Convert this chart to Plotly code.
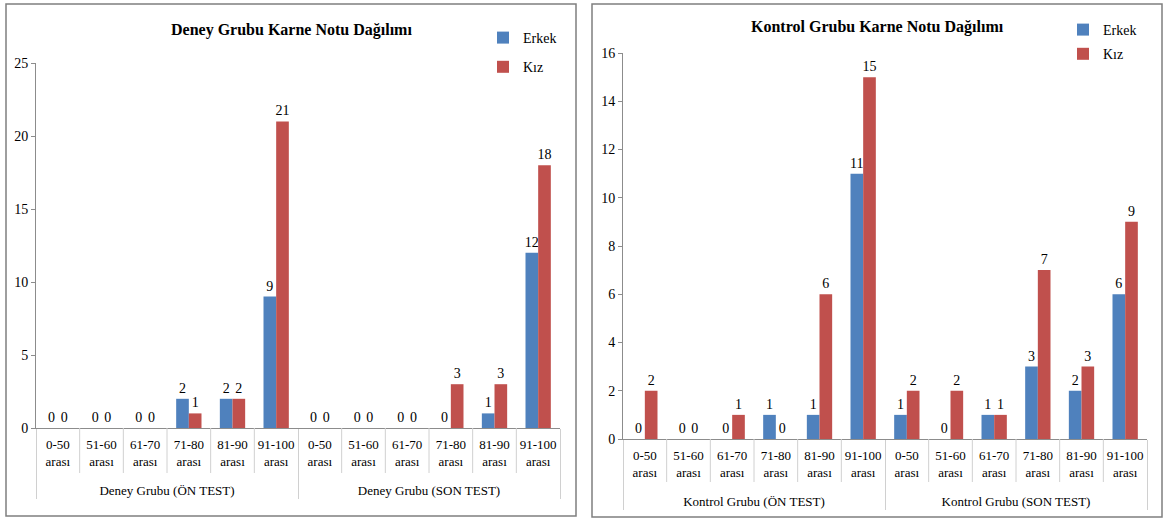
import plotly.graph_objects as go

# ---------------- data ----------------
score_bins = ["0-50<br>arası", "51-60<br>arası", "61-70<br>arası",
              "71-80<br>arası", "81-90<br>arası", "91-100<br>arası"]

deney_groups = ["Deney Grubu (ÖN TEST)", "Deney Grubu (SON TEST)"]
deney_erkek = [0, 0, 0, 2, 2, 9, 0, 0, 0, 0, 1, 12]
deney_kiz = [0, 0, 0, 1, 2, 21, 0, 0, 0, 3, 3, 18]

kontrol_groups = ["Kontrol Grubu (ÖN TEST)", "Kontrol Grubu (SON TEST)"]
kontrol_erkek = [0, 0, 0, 1, 1, 11, 1, 0, 1, 3, 2, 6]
kontrol_kiz = [2, 0, 1, 0, 6, 15, 2, 2, 1, 7, 3, 9]

series_names = ["Erkek", "Kız"]
titles = ["Deney Grubu Karne Notu Dağılımı", "Kontrol Grubu Karne Notu Dağılımı"]

# ---------------- style ----------------
W, H = 1167, 521
FONT = "Liberation Serif"
BLUE = "#4F81BD"
RED = "#C0504D"
AXIS = "#8C8C8C"
DIV = "#D0D0D0"


def mc(groups):
    outer, inner = [], []
    for g in groups:
        for b in score_bins:
            outer.append("<br>" + g)
            inner.append(b)
    return [outer, inner]


fig = go.Figure()

panels = [
    dict(groups=deney_groups, erk=deney_erkek, kiz=deney_kiz, xa="x", ya="y", leg="legend"),
    dict(groups=kontrol_groups, erk=kontrol_erkek, kiz=kontrol_kiz, xa="x2", ya="y2", leg="legend2"),
]

for p in panels:
    x = mc(p["groups"])
    for name, vals, col in [(series_names[0], p["erk"], BLUE), (series_names[1], p["kiz"], RED)]:
        fig.add_trace(go.Bar(
            x=x, y=vals, name=name, marker=dict(color=col, line=dict(width=0)),
            text=vals, texttemplate="%{y}", textposition="outside",
            textfont=dict(family=FONT, size=14, color="#000"),
            constraintext="none", textangle=0,
            cliponaxis=False, xaxis=p["xa"], yaxis=p["ya"], legend=p["leg"],
            legendgroup=p["leg"] + name,
        ))

xdom1 = [36 / W, 560 / W]
xdom2 = [623 / W, 1147 / W]
ydom1 = [(H - 428) / H, (H - 63) / H]
ydom2 = [(H - 439) / H, (H - 53) / H]

xcommon = dict(type="multicategory", showline=True, linecolor=AXIS, linewidth=1,
               ticks="", showgrid=False, showdividers=True, dividercolor=DIV,
               dividerwidth=1, tickangle=0, automargin=False, ticklabelstandoff=4,
               tickfont=dict(family=FONT, size=13, color="#000"))
ycommon = dict(showline=True, linecolor=AXIS, linewidth=1, ticks="outside",
               ticklen=4, tickcolor=AXIS, showgrid=False, zeroline=False,
               automargin=False,
               tickfont=dict(family=FONT, size=14, color="#000"))

fig.update_layout(
    width=W, height=H,
    margin=dict(l=0, r=0, t=0, b=0, autoexpand=False),
    paper_bgcolor="white", plot_bgcolor="white",
    font=dict(family=FONT),
    barmode="group", bargap=0.42, bargroupgap=0,
    xaxis=dict(domain=xdom1, anchor="y", **xcommon),
    yaxis=dict(domain=ydom1, anchor="x", range=[0, 25], dtick=5, **ycommon),
    xaxis2=dict(domain=xdom2, anchor="y2", **xcommon),
    yaxis2=dict(domain=ydom2, anchor="x2", range=[0, 16], dtick=2, **ycommon),
    legend=dict(x=483 / W, y=1 - 22 / H, xanchor="left", yanchor="top",
                font=dict(family=FONT, size=14, color="#000"), tracegroupgap=8,
                bgcolor="rgba(0,0,0,0)", itemclick=False, itemwidth=30),
    legend2=dict(x=1063 / W, y=1 - 14 / H, xanchor="left", yanchor="top",
                 font=dict(family=FONT, size=14, color="#000"), tracegroupgap=3,
                 bgcolor="rgba(0,0,0,0)", itemclick=False, itemwidth=30),
    showlegend=True,
)

# titles
fig.add_annotation(x=291 / W, y=1 - 30 / H, xref="paper", yref="paper", text="<b>" + titles[0] + "</b>",
                   xanchor="center", yanchor="middle",
                   showarrow=False, font=dict(family=FONT, size=16, color="#000"))
fig.add_annotation(x=877 / W, y=1 - 27 / H, xref="paper", yref="paper", text="<b>" + titles[1] + "</b>",
                   xanchor="center", yanchor="middle",
                   showarrow=False, font=dict(family=FONT, size=16, color="#000"))

# panel borders
fig.add_shape(type="rect", xref="paper", yref="paper", x0=6 / W, x1=576 / W, y0=1 - 516 / H, y1=1 - 4 / H,
              line=dict(color="#7F7F7F", width=1.5), layer="below")
fig.add_shape(type="rect", xref="paper", yref="paper", x0=592 / W, x1=1162 / W, y0=1 - 517 / H, y1=1 - 4 / H,
              line=dict(color="#7F7F7F", width=1.5), layer="below")

# inner category dividers
n = len(score_bins) * 2
for dom, ydom, ybot in [(xdom1, ydom1, 473), (xdom2, ydom2, 482)]:
    for i in range(1, n):
        if i == len(score_bins):
            continue
        xp = dom[0] + (dom[1] - dom[0]) * i / n
        fig.add_shape(type="line", xref="paper", yref="paper", x0=xp, x1=xp,
                      y0=ydom[0], y1=1 - ybot / H, line=dict(color=DIV, width=1))

fig.write_html("out.html", config={"displayModeBar": False},
               post_script="document.body.style.margin='0';")
